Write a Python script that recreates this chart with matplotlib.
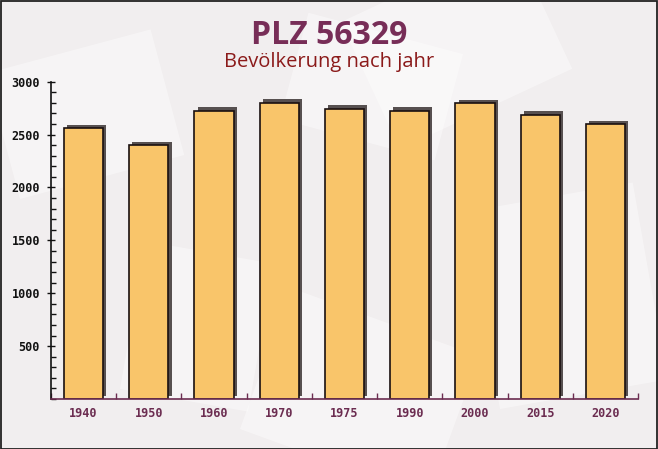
import matplotlib
matplotlib.use("Agg")
import matplotlib.pyplot as plt
import matplotlib.transforms as mtrans
from matplotlib.patches import Rectangle
from matplotlib.ticker import MultipleLocator, FixedLocator
import numpy as np

years = ["1940", "1950", "1960", "1970", "1975", "1990", "2000", "2015", "2020"]
population = [2560, 2400, 2723, 2800, 2742, 2723, 2797, 2686, 2600]
y_major = [500, 1000, 1500, 2000, 2500, 3000]

title = "PLZ 56329"
subtitle = "Bevölkerung nach jahr"

W, H = 658, 449
fig = plt.figure(figsize=(W / 100, H / 100), dpi=100)
fig.patch.set_facecolor("#f1eeef")

# background decoration layer (faint envelope-like shapes)
bg = fig.add_axes([0, 0, 1, 1], zorder=-10)
bg.set_xlim(0, W)
bg.set_ylim(0, H)
bg.axis("off")
deco = [(20, 250, 170, 130, 15), (240, 20, 200, 150, -20), (400, 300, 190, 140, 25),
        (500, 40, 170, 200, 10), (120, 60, 130, 150, -10), (280, 330, 160, 110, -15)]
for (x0, y0, w, h, ang) in deco:
    r = Rectangle((x0, y0), w, h, facecolor="white", alpha=0.4, edgecolor="none")
    r.set_transform(mtrans.Affine2D().rotate_deg_around(x0, y0, ang) + bg.transData)
    bg.add_patch(r)

# frame
bg.add_patch(Rectangle((0.5, 0.5), W - 1.5, H - 1.5, facecolor="none",
                       edgecolor="#222222", linewidth=1.3))

left, right = 51 / W, 638 / W
bottom, top = (H - 399) / H, (H - 81.7) / H
ax = fig.add_axes([left, bottom, right - left, top - bottom])
ax.set_facecolor("none")

x = np.arange(len(years))
shadow_tr = mtrans.offset_copy(ax.transData, fig=fig, x=3.2, y=3.5, units="dots")
ax.bar(x, population, width=0.6, color="#575050", edgecolor="none", zorder=2,
       transform=shadow_tr)
ax.bar(x, population, width=0.6, color="#f9c56a", edgecolor="#1a1010",
       linewidth=1.2, zorder=3)

ax.set_xlim(-0.5, len(years) - 0.5)
ax.set_ylim(0, 3000)

ax.spines["top"].set_visible(False)
ax.spines["right"].set_visible(False)
ax.spines["left"].set_color("#111111")
ax.spines["bottom"].set_color("#6b2c50")
ax.spines["left"].set_linewidth(1.2)
ax.spines["bottom"].set_linewidth(1.2)
ax.spines["bottom"].set_zorder(5)

ax.yaxis.set_major_locator(FixedLocator(y_major))
ax.yaxis.set_minor_locator(MultipleLocator(100))
ax.tick_params(axis="y", which="major", direction="inout", length=6, width=1, color="#111111",
               labelsize=8.5, labelcolor="#111111", pad=5)
ax.tick_params(axis="y", which="minor", direction="in", length=3.5, width=1, color="#111111")

ax.set_xticks(x)
ax.set_xticklabels(years)
ax.set_xticks(np.arange(len(years) + 1) - 0.5, minor=True)
ax.tick_params(axis="x", which="major", length=0, labelsize=8.5, labelcolor="#6b2c50", pad=6)
ax.tick_params(axis="x", which="minor", direction="in", length=4, width=1, color="#6b2c50")

for lab in ax.get_xticklabels() + ax.get_yticklabels():
    lab.set_fontfamily("DejaVu Sans Mono")
    lab.set_fontweight("bold")

fig.text(0.5, 1 - 35 / H, title, ha="center", va="center", fontsize=23, fontweight="bold",
         family=["Open Sans", "DejaVu Sans"], color="#772d57")
fig.text(0.5, 1 - 62 / H, subtitle, ha="center", va="center", fontsize=14.5,
         family=["Open Sans", "DejaVu Sans"], color="#8b1a1a")

fig.savefig("out.png", dpi=100, facecolor=fig.get_facecolor())
